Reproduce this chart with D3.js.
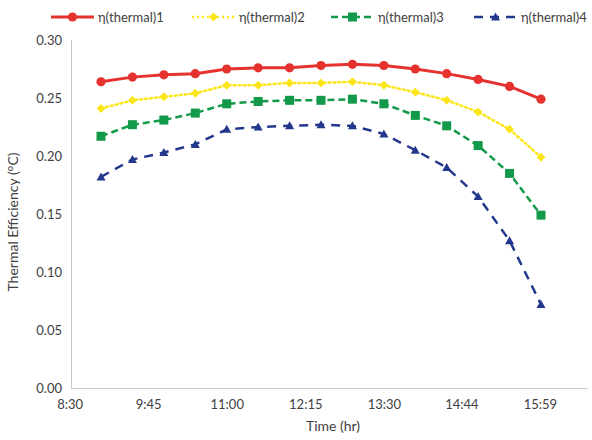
<!DOCTYPE html>
<html><head><meta charset="utf-8">
<script src="https://cdn.jsdelivr.net/npm/d3@7"></script>
<style>body{margin:0;background:#fff;}svg{display:block;font-family:Lato,"Open Sans",sans-serif;}</style>
</head><body><svg id="c" width="592" height="440"></svg>
<script>
const times = ["9:00","9:30","10:00","10:30","11:00","11:30","12:00","12:30","13:00","13:30","14:00","14:30","15:00","15:30","16:00"];
const thermal1 = [0.264,0.268,0.270,0.271,0.275,0.276,0.276,0.278,0.279,0.278,0.275,0.271,0.266,0.260,0.249];
const thermal2 = [0.241,0.248,0.251,0.254,0.261,0.261,0.263,0.263,0.264,0.261,0.255,0.248,0.238,0.223,0.199];
const thermal3 = [0.217,0.227,0.231,0.237,0.245,0.247,0.248,0.248,0.249,0.245,0.235,0.226,0.209,0.185,0.149];
const thermal4 = [0.182,0.197,0.203,0.210,0.223,0.225,0.226,0.227,0.226,0.219,0.205,0.190,0.165,0.127,0.072];
const seriesNames = ["η(thermal)1","η(thermal)2","η(thermal)3","η(thermal)4"];
const xTickLabels = ["8:30","9:45","11:00","12:15","13:30","14:44","15:59"];
const yTicks = [0,0.05,0.10,0.15,0.20,0.25,0.30];

const toMin = s => { const [h,m] = s.split(":").map(Number); return h*60+m; };

const series = [
  {name:seriesNames[0], values:thermal1, color:"#e5322e", dash:null, width:3, marker:"circle"},
  {name:seriesNames[1], values:thermal2, color:"#fce61a", dash:"2,3", width:2.5, marker:"diamond"},
  {name:seriesNames[2], values:thermal3, color:"#13994a", dash:"7,4", width:2.5, marker:"square"},
  {name:seriesNames[3], values:thermal4, color:"#23388c", dash:"9,7", width:2.5, marker:"triangle"}
];

const svg = d3.select("#c");
const textColor = "#404040";
const font = "Lato,'Open Sans',sans-serif";
const y = d3.scaleLinear().domain([0,0.30]).range([388,40]);
const x = d3.scaleLinear().domain([toMin("9:00"), toMin("16:00")]).range([101,541]);

// axes lines
svg.append("line").attr("x1",71).attr("x2",588).attr("y1",388.5).attr("y2",388.5).attr("stroke","#c8c8c8").attr("stroke-width",1);
svg.append("line").attr("x1",71.5).attr("x2",71.5).attr("y1",40).attr("y2",388).attr("stroke","#c8c8c8").attr("stroke-width",1);

// y axis labels
const yAxis = d3.axisLeft(y).tickValues(yTicks).tickFormat(d3.format(".2f")).tickSize(0).tickPadding(9);
const gy = svg.append("g").attr("transform","translate(71,0)").call(yAxis);
gy.select(".domain").remove();
gy.selectAll("text").attr("fill",textColor).style("font-size","13px").style("font-family",font);

// x axis labels
const xAxis = d3.axisBottom(x).tickValues(xTickLabels.map(toMin)).tickFormat((d,i)=>xTickLabels[i]).tickSize(0).tickPadding(12);
const gx = svg.append("g").attr("transform","translate(0,388)").call(xAxis);
gx.select(".domain").remove();
gx.selectAll("text").attr("fill",textColor).style("font-size","13px").style("font-family",font);

// titles
svg.append("text").attr("x",333).attr("y",431).attr("text-anchor","middle").attr("fill",textColor)
  .style("font-size","14px").text("Time (hr)");
svg.append("text").attr("transform","translate(18,222) rotate(-90)").attr("text-anchor","middle").attr("fill",textColor)
  .style("font-size","14px").text("Thermal Efficiency (°C)");

const line = d3.line().x((d,i)=>x(toMin(times[i]))).y(d=>y(d));

function marker(g, type, color, cx, cy){
  if(type==="circle") g.append("circle").attr("cx",cx).attr("cy",cy).attr("r",4.6).attr("fill",color);
  else if(type==="diamond") g.append("path").attr("d",`M${cx},${cy-4.5}L${cx+4.5},${cy}L${cx},${cy+4.5}L${cx-4.5},${cy}Z`).attr("fill",color);
  else if(type==="square") g.append("rect").attr("x",cx-4.5).attr("y",cy-4.5).attr("width",9).attr("height",9).attr("fill",color);
  else g.append("path").attr("d",`M${cx},${cy-4.5}L${cx+4.5},${cy+3.5}L${cx-4.5},${cy+3.5}Z`).attr("fill",color);
}

series.forEach(s=>{
  const g = svg.append("g");
  g.append("path").datum(s.values).attr("d",line).attr("fill","none").attr("stroke",s.color)
    .attr("stroke-width",s.width).attr("stroke-dasharray",s.dash).attr("stroke-linecap", s.dash==="2,3"?"round":"butt");
  s.values.forEach((v,i)=>marker(g,s.marker,s.color,x(toMin(times[i])),y(v)));
});

// legend
const legX = [51,192,331,474];
series.forEach((s,i)=>{
  const g = svg.append("g");
  const lx = legX[i], ly = 17;
  g.append("line").attr("x1",lx).attr("x2",lx+43).attr("y1",ly).attr("y2",ly).attr("stroke",s.color)
    .attr("stroke-width",s.width).attr("stroke-dasharray",s.dash);
  marker(g,s.marker,s.color,lx+21.5,ly);
  g.append("text").attr("x",lx+47).attr("y",ly+5).attr("fill",textColor).style("font-size","13px").style("font-family",font).text(s.name);
});
</script></body></html>
